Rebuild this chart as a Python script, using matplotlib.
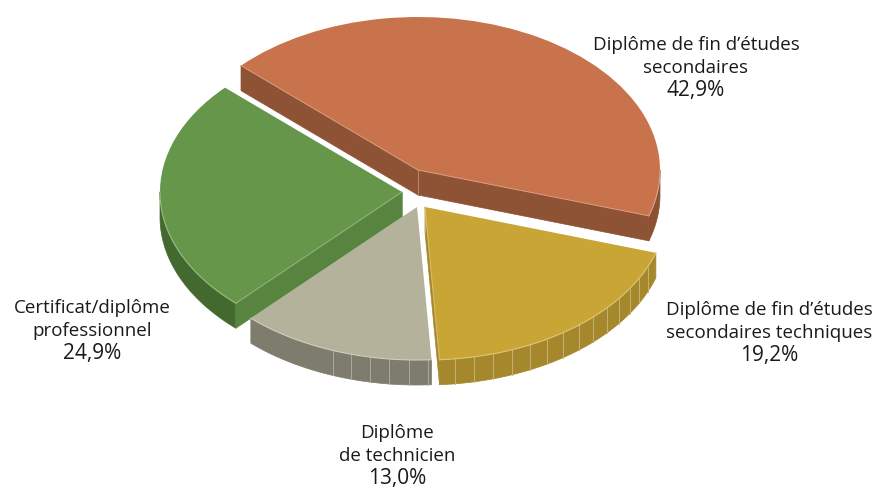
import numpy as np
import matplotlib
matplotlib.use("Agg")
import matplotlib.pyplot as plt
from matplotlib.patches import Polygon
from matplotlib.transforms import Affine2D
import matplotlib.colors as mcolors

# ---------------- data ----------------
categories = ["Diplôme de fin d’études\nsecondaires",
              "Diplôme de fin d’études\nsecondaires techniques",
              "Diplôme\nde technicien",
              "Certificat/diplôme\nprofessionnel"]
shares = [42.9, 19.2, 13.0, 24.9]
pct_labels = ["42,9%", "19,2%", "13,0%", "24,9%"]

# ---------------- style / layout ----------------
top_colors = ["#C8734B", "#C9A535", "#B4B29B", "#65964A"]
wall_colors = ["#8C5133", "#A6882C", "#7E7C6C", "#44692F"]
face_colors = ["#8E5234", "#A6882C", "#7E7C6C", "#578540"]

W, H = 876, 490
rx, ry, depth = 242, 153, 25
center = (418, 195)
explode_offsets = [(0, -25), (7, 12), (-1, 12), (-16, -3)]
draw_rank = [0, 2, 3, 1]
label_anchor = [(696, 96), (769, 361), (397, 484), (92, 359)]
line_gap = 23
FONT = ["Open Sans", "DejaVu Sans"]

fig = plt.figure(figsize=(W / 100, H / 100), dpi=100)
ax = fig.add_axes([0, 0, 1, 1])

wedges, _ = ax.pie(shares, startangle=137, counterclock=False, radius=1,
                   center=(0, 0), wedgeprops=dict(linewidth=0))
ax.set_xlim(0, W)
ax.set_ylim(H, 0)
ax.set_aspect("auto")
ax.axis("off")


def lighten(c, f):
    r, g, b = mcolors.to_rgb(c)
    return (r + (1 - r) * f, g + (1 - g) * f, b + (1 - b) * f)


for i, w in enumerate(wedges):
    vx = center[0] + explode_offsets[i][0]
    vy = center[1] + explode_offsets[i][1]
    t1, t2 = w.theta1, w.theta2
    z = 10 * draw_rank[i]

    def pt(t, dz=0.0):
        r = np.deg2rad(t)
        return np.column_stack([vx + rx * np.cos(r), vy - ry * np.sin(r) + dz])

    # outer (front) wall
    for k in (-1, 0, 1):
        a = max(t1, -180 + 360 * k)
        b = min(t2, 0 + 360 * k)
        if b - a > 0.01:
            ts = np.linspace(a, b, 120)
            poly = np.vstack([pt(ts), pt(ts[::-1], depth)])
            ax.add_patch(Polygon(poly, closed=True, facecolor=wall_colors[i],
                                 edgecolor=wall_colors[i], linewidth=0.5, zorder=z + 1))
            # facet stripes
            for s in np.arange(np.ceil(a / 4.6) * 4.6, b, 4.6):
                if -115 < s < -20:
                    p = pt(np.array([s, s]), np.array([0, depth]))
                    ax.plot(p[:, 0], p[:, 1], color=lighten(wall_colors[i], 0.35),
                            lw=0.7, zorder=z + 1.5)
            top = pt(ts)
            ax.plot(top[:, 0], top[:, 1], color=lighten(top_colors[i], 0.35),
                    lw=0.8, zorder=z + 3)

    # radial faces facing the viewer
    for t, visible in ((t2, np.cos(np.deg2rad(t2)) < 0), (t1, np.cos(np.deg2rad(t1)) > 0)):
        if visible:
            rim = pt(np.array([t]))[0]
            poly = [(vx, vy), tuple(rim), (rim[0], rim[1] + depth), (vx, vy + depth)]
            ax.add_patch(Polygon(poly, closed=True, facecolor=face_colors[i],
                                 edgecolor=face_colors[i], linewidth=0.5, zorder=z + 1.2))
            ax.plot([vx, rim[0]], [vy, rim[1]], color=lighten(top_colors[i], 0.3),
                    lw=0.7, zorder=z + 3)
            ax.plot([vx, vx], [vy, vy + depth], color=lighten(face_colors[i], 0.3),
                    lw=0.7, zorder=z + 1.3)

    # top face
    w.set_transform(Affine2D().scale(rx, -ry).translate(vx, vy) + ax.transData)
    w.set_facecolor(top_colors[i])
    w.set_edgecolor("none")
    w.set_zorder(z + 2)

# labels
for i, (x, yb) in enumerate(label_anchor):
    lines = categories[i].split("\n")
    ax.text(x, yb, pct_labels[i], ha="center", va="baseline", fontsize=15,
            color="#1a1a1a", family=FONT, zorder=100)
    for j, ln in enumerate(reversed(lines)):
        ax.text(x, yb - line_gap * (j + 1), ln, ha="center", va="baseline",
                fontsize=13.5, color="#1a1a1a", family=FONT, zorder=100)

fig.savefig("out.png", dpi=100)
